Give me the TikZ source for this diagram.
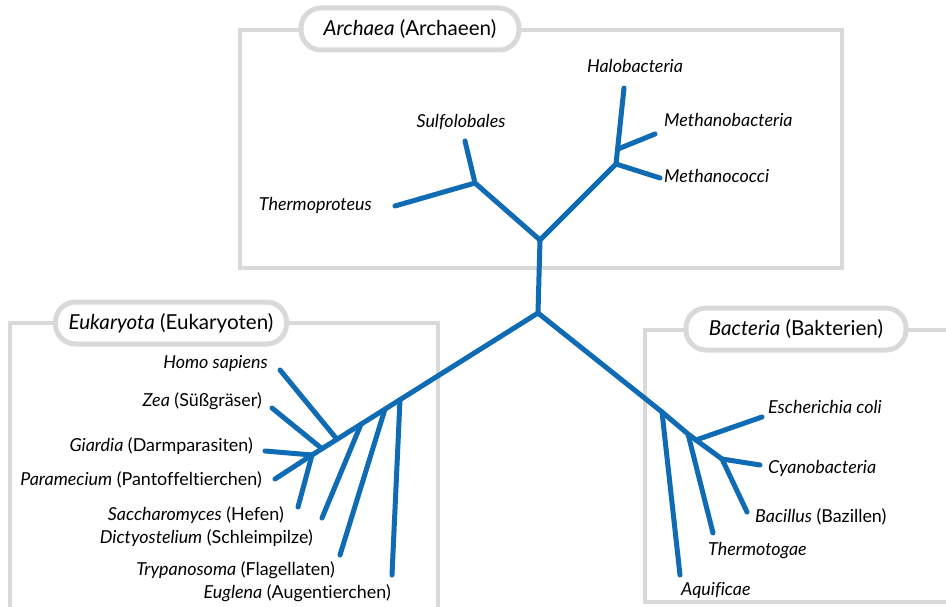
\documentclass[tikz,border=0pt]{standalone}
\usepackage{fontspec}
\setmainfont{Lato}[Ligatures=NoCommon]
\definecolor{boxgray}{HTML}{D8D9DB}
\definecolor{treeblue}{HTML}{0E6BB4}
\begin{document}
\begin{tikzpicture}[x=1pt,y=-1pt,
  frame/.style={draw=boxgray,line width=4pt},
  pill/.style={draw=boxgray,line width=5pt,fill=white,rounded corners=20pt,
    minimum height=42pt,inner sep=0pt,font=\fontsize{20.6}{23}\selectfont},
  br/.style={draw=treeblue,line width=5pt,line cap=round,line join=round},
  lab/.style={inner sep=0pt,font=\fontsize{17.9}{20}\selectfont}]
\useasboundingbox (0,0) rectangle (946,607);
\fill[white] (0,0) rectangle (946,607);
% frames
\draw[frame] (240,30) rectangle (842,268);
\draw[frame] (10,612) -- (10,323) -- (438,323) -- (438,612);
\draw[frame] (952,330) -- (645,330) -- (645,602) -- (952,602);
\node[pill,minimum width=218pt] (parch) at (410,29) {\textit{Archaea} (Archaeen)};
\node[pill,minimum width=231pt] (peuk) at (171,323) {\textit{Eukaryota} (Eukaryoten)};
\node[pill,minimum width=220pt] (pbac) at (796,329) {\textit{Bacteria} (Bakterien)};
% tree coordinates
\coordinate (R) at (538,313);
\coordinate (A0) at (540,240);
\coordinate (A1) at (475,183);
\coordinate (sulf) at (465,141);
\coordinate (therp) at (395,206);
\coordinate (A2) at (616,164);
\coordinate (halo) at (624,88);
\coordinate (A3) at (618,149);
\coordinate (mb) at (655,134);
\coordinate (mc) at (660,178);
% eukaryota
\coordinate (E) at (312,455);
\coordinate (E1) at (400,399.7);
\coordinate (E2) at (385,409.1);
\coordinate (E3) at (361,424.2);
\coordinate (E4) at (337,439.3);
\coordinate (E5) at (322,448.7);
\coordinate (eug) at (392,575);
\coordinate (try) at (340,555);
\coordinate (dic) at (322,518);
\coordinate (hom) at (280,370);
\coordinate (zea) at (272,408);
\coordinate (gia) at (265,451);
\coordinate (par) at (275,479);
\coordinate (sac) at (298,507);
% bacteria
\coordinate (B1) at (662,412);
\coordinate (B2) at (688,434);
\coordinate (B3) at (696,440);
\coordinate (B) at (722,459);
\coordinate (aqu) at (680,575);
\coordinate (thg) at (713,533);
\coordinate (eco) at (762,417);
\coordinate (cya) at (760,465);
\coordinate (bac) at (747,512);
% branches
\draw[br] (R) -- (A0);
\draw[br] (A0) -- (A1) -- (sulf);
\draw[br] (A1) -- (therp);
\draw[br] (A0) -- (A2) -- (halo);
\draw[br] (A3) -- (mb);
\draw[br] (A2) -- (mc);
\draw[br] (R) -- (E);
\draw[br] (E1) -- (eug);
\draw[br] (E2) -- (try);
\draw[br] (E3) -- (dic);
\draw[br] (E4) -- (hom);
\draw[br] (E5) -- (zea);
\draw[br] (E) -- (gia);
\draw[br] (E) -- (par);
\draw[br] (E) -- (sac);
\draw[br] (R) -- (B1) -- (B2) -- (B3) -- (B);
\draw[br] (B1) -- (aqu);
\draw[br] (B2) -- (thg);
\draw[br] (B3) -- (eco);
\draw[br] (B) -- (cya);
\draw[br] (B) -- (bac);
% labels archaea
\node[lab,anchor=base] (lhalo) at (635,73) {\textit{Halobacteria}};
\node[lab,anchor=base west] (lmb) at (664,127) {\textit{Methanobacteria}};
\node[lab,anchor=base west] (lmc) at (664,183) {\textit{Methanococci}};
\node[lab,anchor=base] (lsulf) at (461,128) {\textit{Sulfolobales}};
\node[lab,anchor=base east] (lther) at (372,211) {\textit{Thermoproteus}};
% labels eukaryota
\node[lab,anchor=base east] (lhom) at (268,368) {\textit{Homo sapiens}};
\node[lab,anchor=base east] (lzea) at (262,406) {\textit{Zea} (Süßgräser)};
\node[lab,anchor=base east] (lgia) at (253,451) {\textit{Giardia} (Darmparasiten)};
\node[lab,anchor=base east] (lpar) at (262,485) {\textit{Paramecium} (Pantoffeltierchen)};
\node[lab,anchor=base east] (lsac) at (284,520) {\textit{Saccharomyces} (Hefen)};
\node[lab,anchor=base east] (ldic) at (313,543) {\textit{Dictyostelium} (Schleimpilze)};
\node[lab,anchor=base east] (ltry) at (335,575) {\textit{Trypanosoma} (Flagellaten)};
\node[lab,anchor=base east] (leug) at (391,598) {\textit{Euglena} (Augentierchen)};
% labels bacteria
\node[lab,anchor=base west] (leco) at (768,413) {\textit{Escherichia coli}};
\node[lab,anchor=base west] (lcya) at (768,473) {\textit{Cyanobacteria}};
\node[lab,anchor=base west] (lbac) at (755,522) {\textit{Bacillus} (Bazillen)};
\node[lab,anchor=base west] (lthg) at (708,555) {\textit{Thermotogae}};
\node[lab,anchor=base west] (laqu) at (681,595) {\textit{Aquificae}};
\end{tikzpicture}
\end{document}
